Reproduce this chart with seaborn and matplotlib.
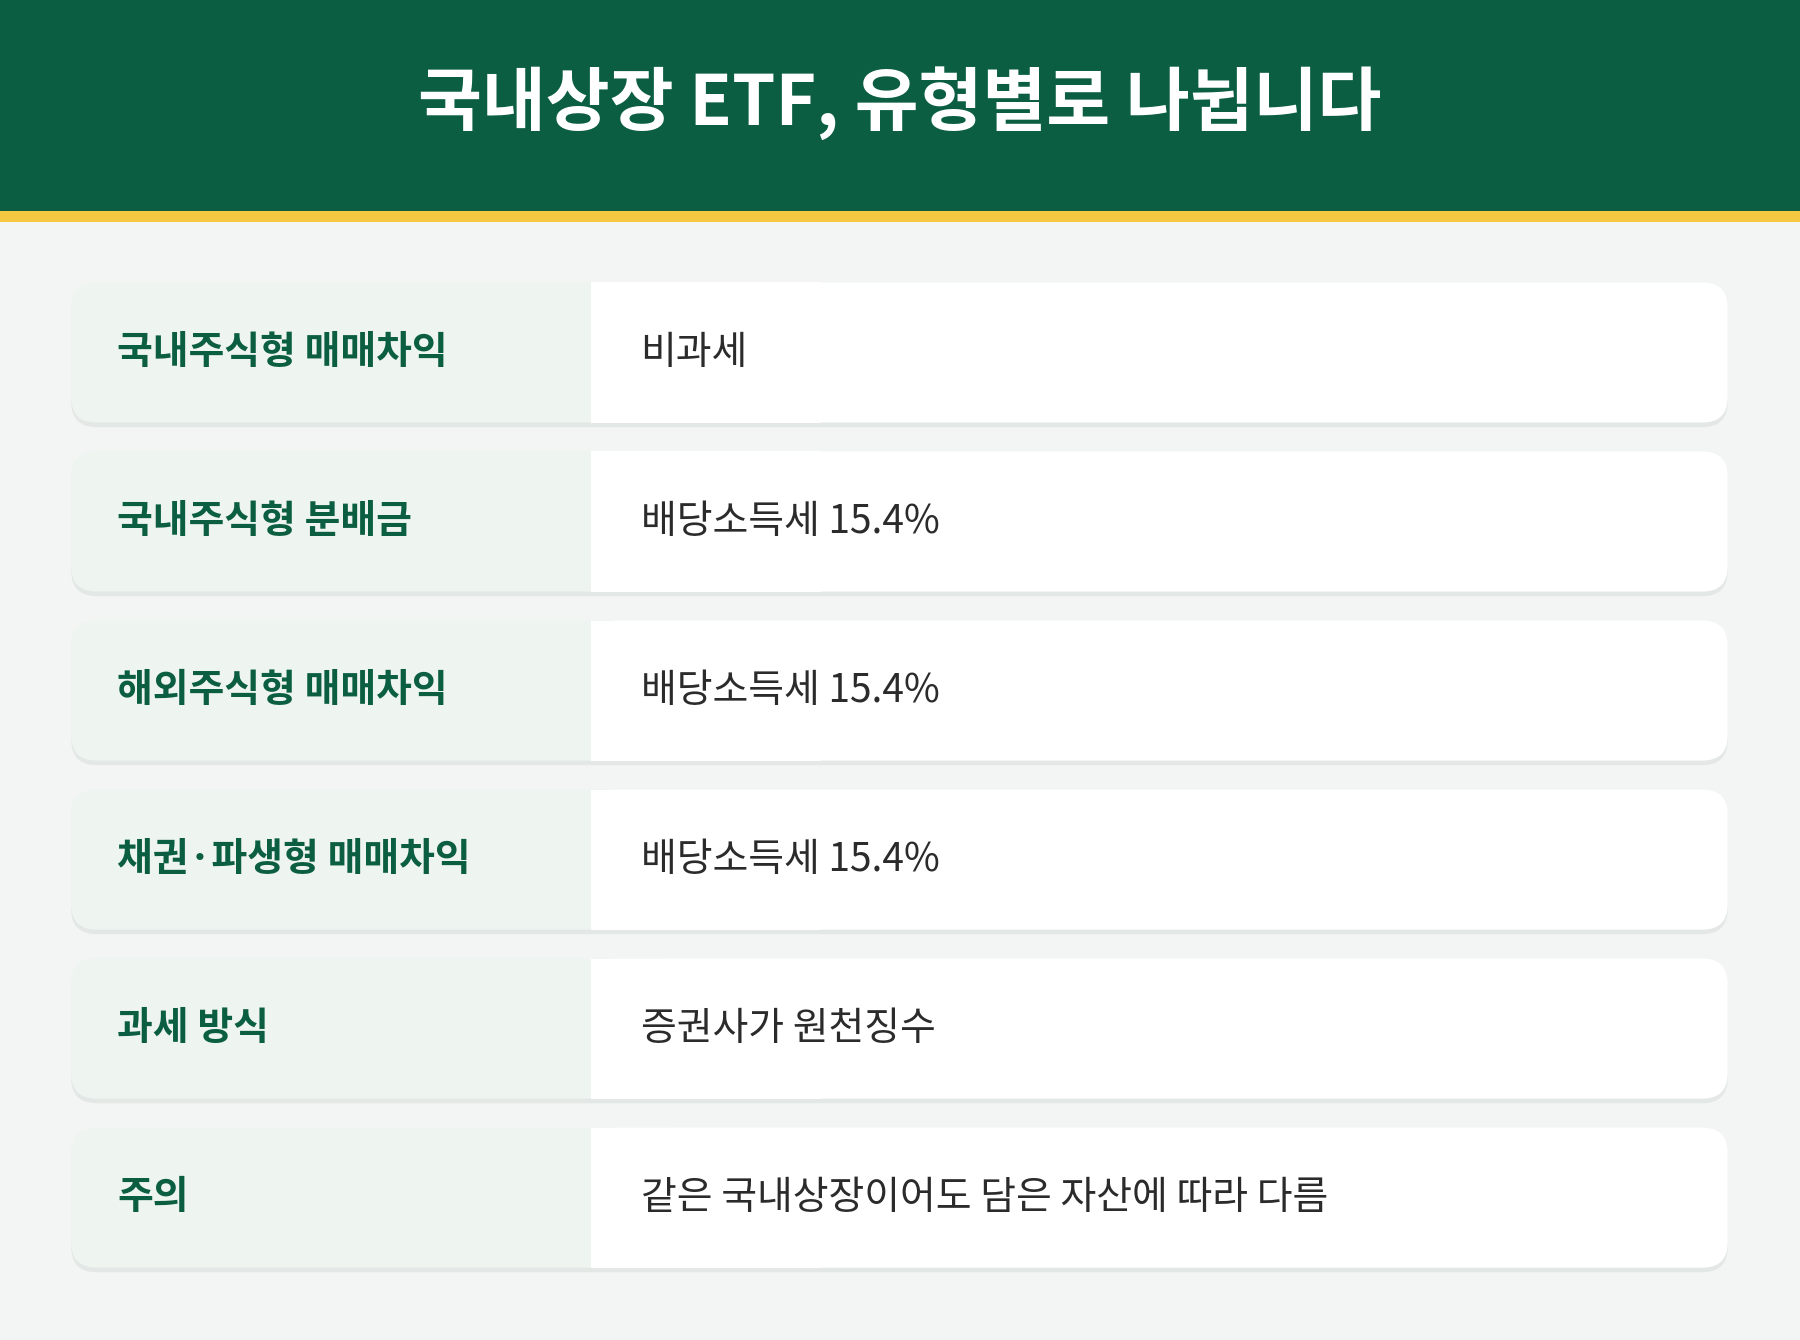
import matplotlib
matplotlib.use('Agg')
import matplotlib.pyplot as plt
from matplotlib.patches import FancyBboxPatch, Rectangle
import seaborn as sns

title = "국내상장 ETF, 유형별로 나뉩니다"
labels = ["국내주식형 매매차익", "국내주식형 분배금", "해외주식형 매매차익",
          "채권·파생형 매매차익", "과세 방식", "주의"]
values = ["비과세", "배당소득세 15.4%", "배당소득세 15.4%", "배당소득세 15.4%",
          "증권사가 원천징수", "같은 국내상장이어도 담은 자산에 따라 다름"]

GREEN = "#0B5E42"
YELLOW = "#F5C842"
BG = "#F2F5F4"
LABEL_BG = "#EEF4F0"
TEXT = "#2B2B2B"

sns.set_theme(style="white")
plt.rcParams['font.family'] = ['Noto Sans CJK KR', 'DejaVu Sans']

W, H = 1568, 1167
fig = plt.figure(figsize=(18, 13.4), dpi=100)
ax = fig.add_axes([0, 0, 1, 1])
ax.set_xlim(0, W)
ax.set_ylim(H, 0)
ax.axis('off')
fig.patch.set_facecolor(BG)

ax.add_patch(Rectangle((0, 0), W, 184, color=GREEN, lw=0))
ax.add_patch(Rectangle((0, 184), W, 9, color=YELLOW, lw=0))
ax.text(W / 2, 90, title, color="white", fontsize=50, fontweight='bold',
        ha='center', va='center')

x0, x1, xs = 62, 1505, 515
top, h, step, r = 246, 122, 147.2, 22
for i, (lab, val) in enumerate(zip(labels, values)):
    y = top + i * step
    # soft shadow
    ax.add_patch(FancyBboxPatch((x0, y + 4), x1 - x0, h,
                                boxstyle=f"round,pad=0,rounding_size={r}",
                                fc="#E3E8E6", ec="none"))
    ax.add_patch(FancyBboxPatch((x0, y), 600 - x0, h,
                                boxstyle=f"round,pad=0,rounding_size={r}",
                                fc=LABEL_BG, ec="none"))
    ax.add_patch(FancyBboxPatch((xs, y), x1 - xs, h,
                                boxstyle=f"round,pad=0,rounding_size={r}",
                                fc="white", ec="none"))
    ax.add_patch(Rectangle((xs, y), 200, h, fc="white", ec="none"))
    ax.text(102, y + h / 2, lab, color=GREEN, fontsize=28, fontweight='bold',
            ha='left', va='center')
    ax.text(558, y + h / 2, val, color=TEXT, fontsize=28,
            ha='left', va='center')

fig.savefig("out.png", dpi=100, facecolor=BG)
